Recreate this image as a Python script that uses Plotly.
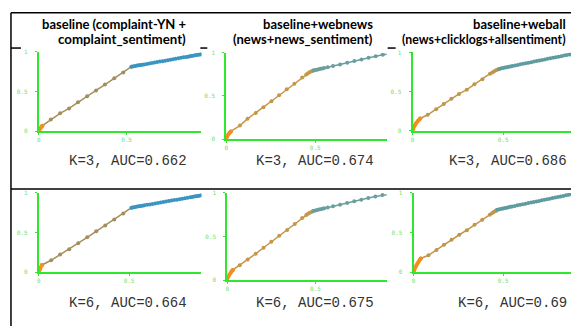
import plotly.graph_objects as go

W, H = 571, 329

# ---------------- data ----------------
titles_l1 = ["baseline (complaint-YN +", "baseline+webnews", "baseline+weball"]
titles_l2 = ["complaint_sentiment)", "(news+news_sentiment)", "(news+clicklogs+allsentiment)"]
auc_labels = ["K=3, AUC=0.662", "K=3, AUC=0.674", "K=3, AUC=0.686",
              "K=6, AUC=0.664", "K=6, AUC=0.675", "K=6, AUC=0.69"]
x_tick_vals = [0, 0.5]
x_tick_text = ["0", "0.5"]
y_tick_vals = [0, 0.5, 1]
y_tick_text = ["0", "0.5", "1"]

# Panel 1: baseline, K=3
p1_orig_fpr = [0, 0.004, 0.008, 0.012, 0.016, 0.02]
p1_orig_tpr = [0, 0.02, 0.035, 0.05, 0.06, 0.07]
p1_mid_fpr = [0.02, 0.068, 0.121, 0.172, 0.223, 0.275, 0.326, 0.377, 0.43, 0.481, 0.528]
p1_mid_tpr = [0.07, 0.148, 0.226, 0.288, 0.366, 0.44, 0.515, 0.589, 0.667, 0.74, 0.815]
p1_top_fpr = [0.528, 0.54, 0.55, 0.56, 0.57, 0.58, 0.59, 0.60, 0.615, 0.63, 0.645, 0.66, 0.675,
              0.69, 0.705, 0.72, 0.735, 0.75, 0.765, 0.78, 0.795, 0.81, 0.825, 0.84, 0.85, 0.86,
              0.87, 0.88, 0.89, 0.90, 0.91, 0.92, 0.93, 0.95, 0.97, 1.0]
p1_top_tpr = [0.815, 0.820, 0.824, 0.828, 0.832, 0.835, 0.839, 0.843, 0.849, 0.855, 0.861, 0.867,
              0.873, 0.879, 0.884, 0.890, 0.896, 0.902, 0.908, 0.914, 0.920, 0.926, 0.932, 0.938,
              0.941, 0.945, 0.949, 0.953, 0.957, 0.961, 0.965, 0.969, 0.972, 0.980, 0.988, 1.0]

# Panel 2: baseline+webnews, K=3
p2_orig_fpr = [0, 0.003, 0.006, 0.01, 0.014, 0.018, 0.022, 0.026]
p2_orig_tpr = [0, 0.02, 0.035, 0.05, 0.06, 0.07, 0.08, 0.088]
p2_mid_fpr = [0.026, 0.077, 0.12, 0.166, 0.209, 0.254, 0.297, 0.34, 0.383, 0.427,
              0.45, 0.46, 0.47, 0.48, 0.49]
p2_mid_tpr = [0.088, 0.157, 0.237, 0.302, 0.37, 0.439, 0.508, 0.577, 0.641, 0.714,
              0.75, 0.765, 0.778, 0.788, 0.796]
p2_top_fpr = [0.49, 0.50, 0.51, 0.52, 0.53, 0.54, 0.55, 0.57, 0.60, 0.64, 0.68, 0.72, 0.76,
              0.80, 0.84, 0.88, 0.92, 0.96, 1.0]
p2_top_tpr = [0.796, 0.801, 0.806, 0.81, 0.815, 0.82, 0.825, 0.834, 0.848, 0.867, 0.886, 0.905,
              0.924, 0.943, 0.962, 0.98, 0.99, 0.995, 1.0]

# Panel 3: baseline+weball, K=3
p3_orig_fpr = [0, 0.003, 0.006, 0.01, 0.014, 0.018, 0.023, 0.028, 0.033, 0.038, 0.042]
p3_orig_tpr = [0, 0.02, 0.04, 0.06, 0.075, 0.09, 0.105, 0.12, 0.133, 0.145, 0.157]
p3_mid_fpr = [0.042, 0.084, 0.13, 0.172, 0.214, 0.256, 0.299, 0.341, 0.385, 0.427,
              0.44, 0.45, 0.46, 0.47, 0.478]
p3_mid_tpr = [0.157, 0.204, 0.275, 0.341, 0.408, 0.47, 0.525, 0.595, 0.658, 0.729,
              0.745, 0.76, 0.772, 0.782, 0.79]
p3_top_fpr = [0.478, 0.49, 0.5, 0.51, 0.52, 0.53, 0.54, 0.55, 0.565, 0.58, 0.595, 0.61, 0.625,
              0.64, 0.655, 0.67, 0.685, 0.7, 0.715, 0.73, 0.745, 0.76, 0.775, 0.79, 0.805,
              0.82, 0.835, 0.85, 0.865, 0.88, 0.9, 0.95, 1.0]
p3_top_tpr = [0.79, 0.797, 0.802, 0.807, 0.812, 0.817, 0.822, 0.827, 0.834, 0.841, 0.848, 0.855,
              0.862, 0.869, 0.876, 0.883, 0.89, 0.897, 0.904, 0.911, 0.918, 0.925, 0.932, 0.939,
              0.946, 0.953, 0.96, 0.967, 0.974, 0.98, 0.986, 0.994, 1.0]

# Panel 4: baseline, K=6
p4_orig_fpr = [0, 0.004, 0.008, 0.012, 0.017]
p4_orig_tpr = [0, 0.025, 0.045, 0.07, 0.09]
p4_mid_fpr = [0.017, 0.068, 0.118, 0.168, 0.218, 0.268, 0.318, 0.368, 0.418, 0.468, 0.514]
p4_mid_tpr = [0.09, 0.15, 0.222, 0.29, 0.366, 0.44, 0.515, 0.59, 0.665, 0.74, 0.814]
p4_top_fpr = [0.514, 0.525, 0.535, 0.545, 0.555, 0.565, 0.575, 0.585, 0.60, 0.615, 0.63, 0.645,
              0.66, 0.675, 0.69, 0.705, 0.72, 0.735, 0.75, 0.765, 0.78, 0.795, 0.81, 0.825,
              0.84, 0.85, 0.86, 0.87, 0.88, 0.89, 0.90, 0.91, 0.93, 0.95, 0.97, 1.0]
p4_top_tpr = [0.814, 0.819, 0.823, 0.827, 0.831, 0.835, 0.839, 0.843, 0.849, 0.855, 0.861, 0.867,
              0.873, 0.879, 0.885, 0.891, 0.897, 0.903, 0.909, 0.915, 0.921, 0.927, 0.933, 0.939,
              0.945, 0.949, 0.953, 0.957, 0.961, 0.965, 0.969, 0.973, 0.979, 0.985, 0.991, 1.0]

# Panel 5: baseline+webnews, K=6
p5_orig_fpr = [0, 0.004, 0.008, 0.012, 0.017, 0.022, 0.027, 0.032]
p5_orig_tpr = [0, 0.025, 0.045, 0.06, 0.075, 0.09, 0.105, 0.115]
p5_mid_fpr = [0.032, 0.071, 0.116, 0.162, 0.206, 0.25, 0.295, 0.34, 0.383, 0.425,
              0.448, 0.458, 0.468, 0.478, 0.488]
p5_mid_tpr = [0.115, 0.168, 0.235, 0.302, 0.37, 0.438, 0.508, 0.575, 0.642, 0.712,
              0.745, 0.76, 0.772, 0.782, 0.792]
p5_top_fpr = [0.488, 0.50, 0.51, 0.52, 0.53, 0.54, 0.55, 0.57, 0.60, 0.64, 0.68, 0.72, 0.76,
              0.80, 0.84, 0.88, 0.92, 0.96, 1.0]
p5_top_tpr = [0.792, 0.798, 0.803, 0.808, 0.813, 0.818, 0.823, 0.832, 0.846, 0.865, 0.884, 0.903,
              0.922, 0.941, 0.958, 0.975, 0.988, 0.995, 1.0]

# Panel 6: baseline+weball, K=6
p6_orig_fpr = [0, 0.003, 0.006, 0.01, 0.014, 0.018, 0.022, 0.027, 0.032, 0.036, 0.04]
p6_orig_tpr = [0, 0.02, 0.04, 0.06, 0.078, 0.095, 0.11, 0.128, 0.145, 0.16, 0.172]
p6_mid_fpr = [0.04, 0.083, 0.128, 0.17, 0.212, 0.255, 0.297, 0.34, 0.383, 0.425,
              0.437, 0.447, 0.457, 0.462, 0.467]
p6_mid_tpr = [0.172, 0.213, 0.28, 0.345, 0.41, 0.472, 0.53, 0.598, 0.66, 0.725,
              0.742, 0.758, 0.77, 0.778, 0.786]
p6_top_fpr = [0.467, 0.48, 0.49, 0.5, 0.51, 0.52, 0.53, 0.54, 0.55, 0.565, 0.58, 0.595, 0.61,
              0.625, 0.64, 0.655, 0.67, 0.685, 0.7, 0.715, 0.73, 0.745, 0.76, 0.775, 0.79,
              0.805, 0.82, 0.835, 0.85, 0.865, 0.88, 0.9, 0.95, 1.0]
p6_top_tpr = [0.786, 0.794, 0.799, 0.804, 0.809, 0.814, 0.819, 0.824, 0.829, 0.836, 0.843, 0.85,
              0.857, 0.864, 0.871, 0.878, 0.885, 0.892, 0.899, 0.906, 0.913, 0.92, 0.927, 0.934,
              0.941, 0.948, 0.955, 0.962, 0.969, 0.976, 0.982, 0.988, 0.995, 1.0]

panels = [
    (p1_orig_fpr, p1_orig_tpr, p1_mid_fpr, p1_mid_tpr, p1_top_fpr, p1_top_tpr),
    (p2_orig_fpr, p2_orig_tpr, p2_mid_fpr, p2_mid_tpr, p2_top_fpr, p2_top_tpr),
    (p3_orig_fpr, p3_orig_tpr, p3_mid_fpr, p3_mid_tpr, p3_top_fpr, p3_top_tpr),
    (p4_orig_fpr, p4_orig_tpr, p4_mid_fpr, p4_mid_tpr, p4_top_fpr, p4_top_tpr),
    (p5_orig_fpr, p5_orig_tpr, p5_mid_fpr, p5_mid_tpr, p5_top_fpr, p5_top_tpr),
    (p6_orig_fpr, p6_orig_tpr, p6_mid_fpr, p6_mid_tpr, p6_top_fpr, p6_top_tpr),
]

# ---------------- layout geometry (pixels) ----------------
# (x of y-axis, right edge, top, bottom, px per unit x)
geom = [
    (37, 200, 49, 130, 176),
    (225, 386, 50, 138, 178.6),
    (412, 571, 49.5, 129.5, 182),
    (37, 200, 193, 274, 181),
    (226, 386, 193, 282, 177),
    (413, 571, 193, 274, 180),
]
palettes = [
    ("#f5901c", "#a38f5c", "#3b95c2"),
    ("#f0901a", "#c4974a", "#6b9e9e"),
    ("#f0901a", "#c0964c", "#5f9ca0"),
    ("#f5901c", "#a38f5c", "#3b95c2"),
    ("#f0901a", "#c4974a", "#6b9e9e"),
    ("#f0901a", "#c0964c", "#5f9ca0"),
]

GREEN = "#2ee82e"
fig = go.Figure()
layout = dict(width=W, height=H, margin=dict(l=0, r=0, t=0, b=0),
              paper_bgcolor="white", plot_bgcolor="white", showlegend=False)

for i, (data, g, pal) in enumerate(zip(panels, geom, palettes)):
    n = i + 1
    xa = "x" if n == 1 else f"x{n}"
    ya = "y" if n == 1 else f"y{n}"
    ofpr, otpr, mfpr, mtpr, tfpr, ttpr = data
    c_o, c_m, c_t = pal
    fig.add_trace(go.Scatter(x=mfpr, y=mtpr, mode="lines+markers", xaxis=xa, yaxis=ya,
                             line=dict(color=c_m, width=1.5),
                             marker=dict(color=c_m, size=4)))
    fig.add_trace(go.Scatter(x=tfpr, y=ttpr, mode="lines+markers", xaxis=xa, yaxis=ya,
                             line=dict(color=c_t, width=1.5),
                             marker=dict(color=c_t, size=4)))
    fig.add_trace(go.Scatter(x=ofpr, y=otpr, mode="lines+markers", xaxis=xa, yaxis=ya,
                             line=dict(color=c_o, width=2),
                             marker=dict(color=c_o, size=4)))
    x0, xr, yt, yb, pxu = g
    xmax = (xr - x0) / pxu
    kx = "xaxis" if n == 1 else f"xaxis{n}"
    ky = "yaxis" if n == 1 else f"yaxis{n}"
    layout[kx] = dict(domain=[x0 / W, xr / W], anchor=ya, range=[0, xmax],
                      showline=True, linecolor=GREEN, linewidth=2, showgrid=False,
                      zeroline=False, ticks="outside", ticklen=2, tickcolor=GREEN,
                      tickvals=x_tick_vals, ticktext=x_tick_text,
                      tickfont=dict(size=6, color="#70e070", family="DejaVu Sans Mono"))
    layout[ky] = dict(domain=[1 - yb / H, 1 - yt / H], anchor=xa, range=[0, 1],
                      showline=True, linecolor=GREEN, linewidth=2, showgrid=False,
                      zeroline=False, ticks="outside", ticklen=2, tickcolor=GREEN,
                      tickvals=y_tick_vals, ticktext=y_tick_text, ticklabelstandoff=6,
                      tickfont=dict(size=6, color="#70e070", family="DejaVu Sans Mono"))

fig.update_layout(**layout)

# titles
title_right = [187, 374, 568]
l2_sizes = [13.3, 13.0, 12.3]
for j in range(3):
    for txt, yy, fs in ((titles_l1[j], 20, 13), (titles_l2[j], 36, l2_sizes[j])):
        fig.add_annotation(x=title_right[j] / W, y=1 - yy / H, xref="paper", yref="paper",
                           text=f"<b>{txt}</b>", showarrow=False, xanchor="right",
                           yanchor="middle",
                           font=dict(family="Lato", size=fs, color="black"))

# AUC labels
auc_right = [188, 375, 569, 188, 375, 569]
auc_y = [160, 160, 160, 305, 305, 305]
for lbl, xr_, yy in zip(auc_labels, auc_right, auc_y):
    fig.add_annotation(x=xr_ / W, y=1 - yy / H, xref="paper", yref="paper", text=lbl,
                       showarrow=False, xanchor="right", yanchor="middle",
                       font=dict(family="Liberation Mono", size=14, color="#333333"))

# frame lines
def hline(x0, x1, y):
    fig.add_shape(type="line", xref="paper", yref="paper", x0=x0 / W, x1=x1 / W,
                  y0=1 - y / H, y1=1 - y / H, line=dict(color="black", width=1.5))

hline(9, 571, 9)
hline(9, 571, 189)
hline(9, 19, 45)
hline(199, 206, 45)
hline(387, 395, 45)
fig.add_shape(type="line", xref="paper", yref="paper", x0=9 / W, x1=9 / W, y0=0,
              y1=1 - 9 / H, line=dict(color="black", width=1.5))

fig.write_html("out.html", config={"displayModeBar": False},
               post_script="document.body.style.margin='0';")
